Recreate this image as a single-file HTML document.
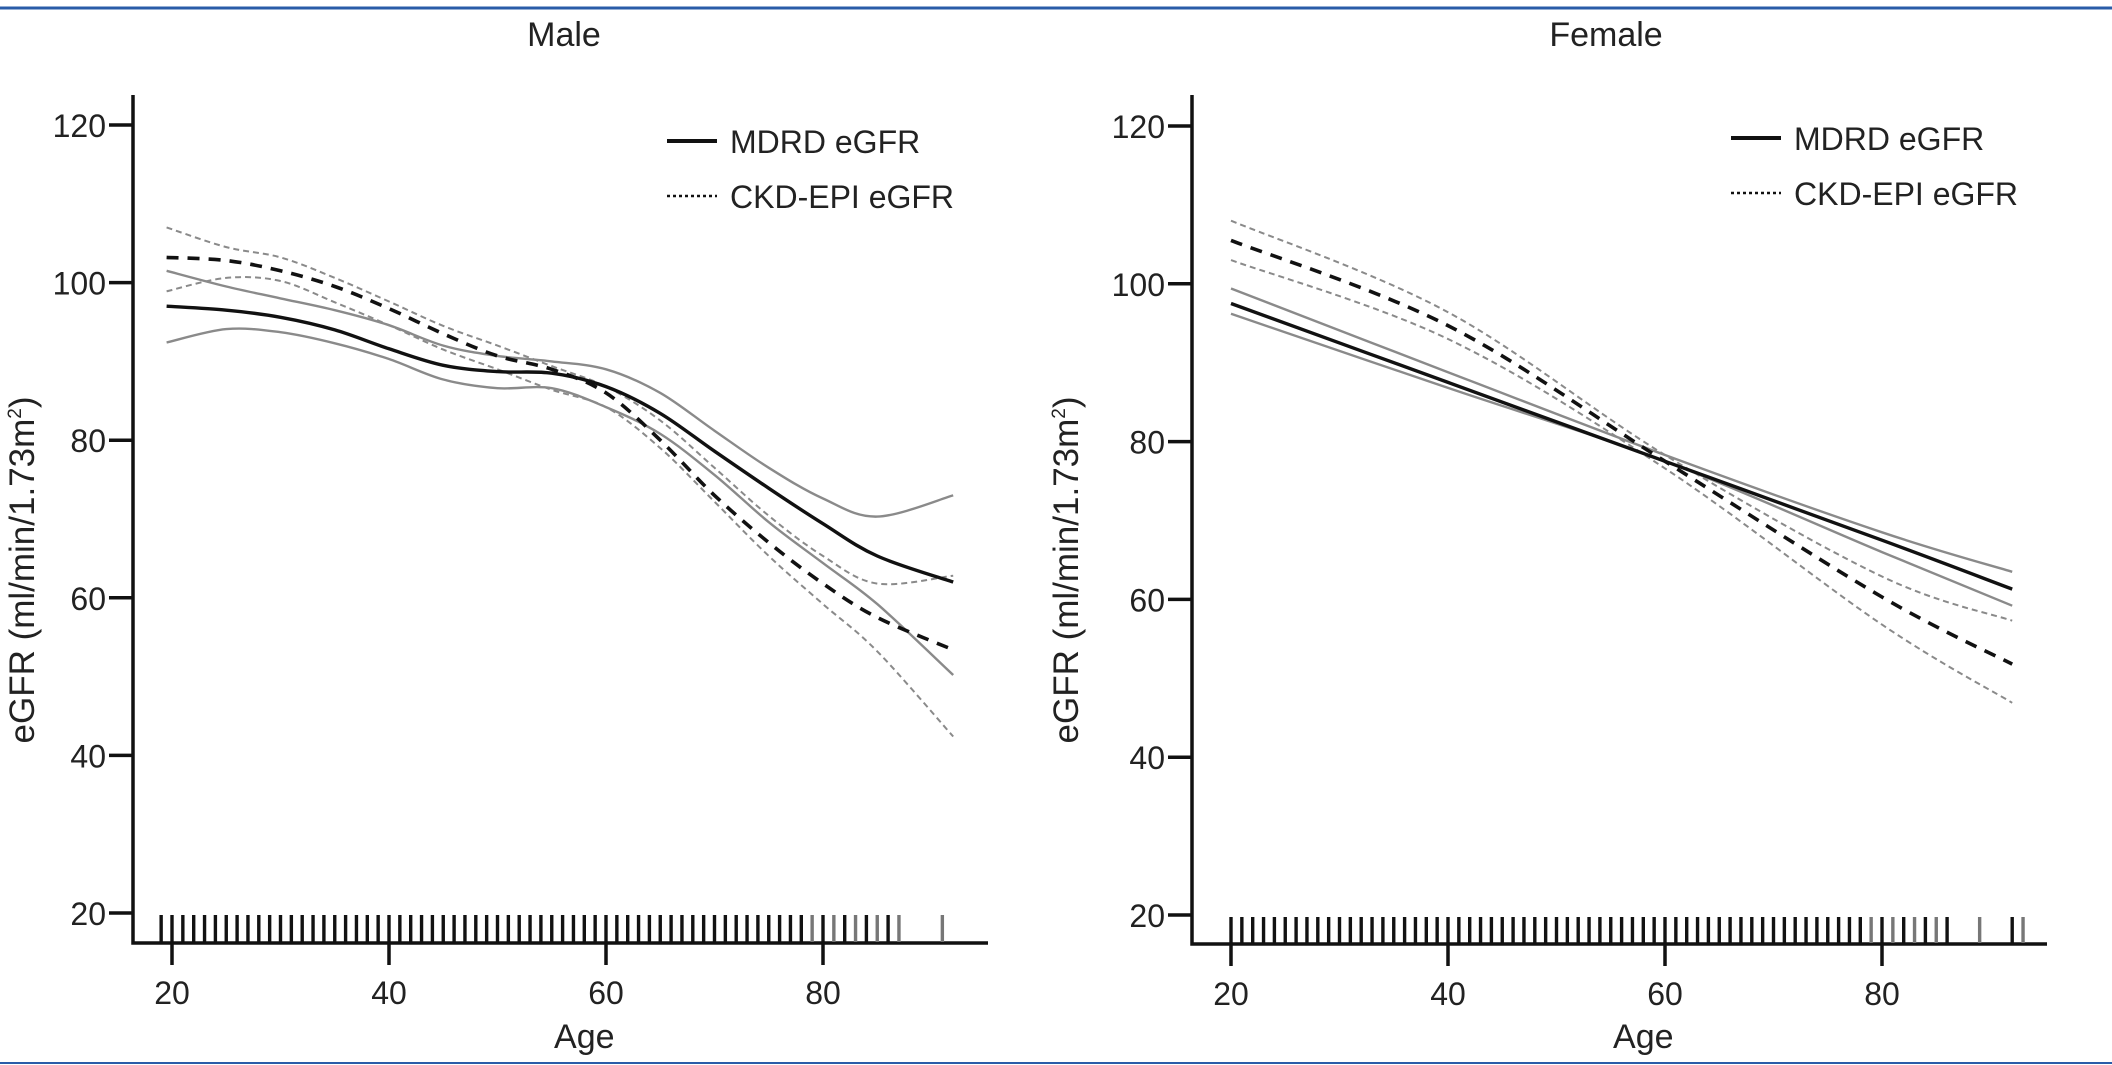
<!DOCTYPE html>
<html><head><meta charset="utf-8">
<style>
html,body{margin:0;padding:0;background:#fff;}
svg{display:block;}
text{font-family:"Liberation Sans",sans-serif;fill:#222;}
</style></head>
<body>
<svg id="fig" width="2112" height="1065" viewBox="0 0 2112 1065" xmlns="http://www.w3.org/2000/svg">
<line x1="0" y1="8" x2="2112" y2="8" stroke="#2a5ca8" stroke-width="3"/>
<line x1="0" y1="1063" x2="2112" y2="1063" stroke="#2a5ca8" stroke-width="2"/>
<g id="male"></g>
<g id="female"></g>
</svg>
<script>
const yTicks = [20,40,60,80,100,120];
const xTicks = [20,40,60,80];
const maleAges = [19.5,25,30,35,40,45,50,55,60,65,70,75,80,85,92];
const maleMdrd = [97,96.5,95.6,94,91.6,89.5,88.7,88.5,86.8,83.4,78.6,73.9,69.4,65.3,62];
const maleMdrdUp = [101.5,99.5,98,96.5,94.6,92,90.7,90,89,86,81.2,76.5,72.6,70.3,73];
const maleMdrdLo = [92.4,94.1,93.7,92.3,90.3,87.7,86.6,86.6,84.2,80.8,75.6,69.6,64.4,59.2,50.2];
const maleCkd = [103.2,102.8,101.5,99.5,96.7,93.5,90.7,89,86,80,73,67,61.8,57.5,53.4];
const maleCkdUp = [107,104.5,103.2,100.6,97.6,94.5,92,89.4,86.8,82.5,76.5,70.4,65.3,61.8,62.8];
const maleCkdLo = [98.9,100.6,100.2,97.5,94.6,91.5,89,86.4,84.2,79,72.2,65.3,59.2,53.2,42.4];
const femaleAges = [20,40,60,80,92];
const femaleMdrd = [97.5,87.5,77.5,67.5,61.3];
const femaleMdrdUp = [99.4,88.8,78.3,68.5,63.5];
const femaleMdrdLo = [96.2,86.8,77.5,66,59.2];
const femaleCkd = [105.5,94.7,77.5,60.3,51.8];
const femaleCkdUp = [108,96.4,78.3,62.9,57.3];
const femaleCkdLo = [103,93,76.6,56.8,46.9];
const maleRug = [];
for (let a = 19; a <= 87; a++) maleRug.push(a);
maleRug.push(91);
const femaleRug = [];
for (let a = 20; a <= 86; a++) femaleRug.push(a);
femaleRug.push(89, 92, 93);

const NS = "http://www.w3.org/2000/svg";
function mk(parent, tag, attrs) {
  const e = document.createElementNS(NS, tag);
  for (const k in attrs) e.setAttribute(k, attrs[k]);
  parent.appendChild(e);
  return e;
}
function smoothPath(pts) {
  let d = "M" + pts[0][0].toFixed(1) + "," + pts[0][1].toFixed(1);
  for (let i = 0; i < pts.length - 1; i++) {
    const p0 = pts[Math.max(0, i - 1)], p1 = pts[i], p2 = pts[i + 1], p3 = pts[Math.min(pts.length - 1, i + 2)];
    const c1 = [p1[0] + (p2[0] - p0[0]) / 6, p1[1] + (p2[1] - p0[1]) / 6];
    const c2 = [p2[0] - (p3[0] - p1[0]) / 6, p2[1] - (p3[1] - p1[1]) / 6];
    d += " C" + c1[0].toFixed(1) + "," + c1[1].toFixed(1) + " " + c2[0].toFixed(1) + "," + c2[1].toFixed(1) + " " + p2[0].toFixed(1) + "," + p2[1].toFixed(1);
  }
  return d;
}
function panel(g, cfg) {
  const X = a => cfg.x20 + (a - 20) * (cfg.x80 - cfg.x20) / 60;
  const Y = v => cfg.y20 - (v - 20) * (cfg.y20 - cfg.y120) / 100;
  const t = mk(g, "text", {x: cfg.titleX, y: 46, "text-anchor": "middle", "font-size": 34});
  t.textContent = cfg.title;
  
  
  const yl = mk(g, "text", {transform: "translate(" + cfg.ylabX + ",570) rotate(-90)", "text-anchor": "middle", "font-size": 35});
  yl.innerHTML = 'eGFR (ml/min/1.73m<tspan font-size="19" dy="-13">2</tspan><tspan dy="13">)</tspan>';
  
  
  const xl = mk(g, "text", {x: X(58), y: 1048, "text-anchor": "middle", "font-size": 34});
  xl.textContent = "Age";
  
  
  const ax = mk(g, "path", {d: "M" + cfg.ax + ",95 V" + cfg.axY + " H" + cfg.axEnd, fill: "none", stroke: "#111", "stroke-width": 3.5});
  
  
  yTicks.forEach(v => {
    const l = mk(g, "line", {x1: cfg.ax - 24, x2: cfg.ax, y1: Y(v), y2: Y(v), stroke: "#111", "stroke-width": 3.5});
    
    
    const tx = mk(g, "text", {x: cfg.ax - 27, y: Y(v) + 12, "text-anchor": "end", "font-size": 32});
    tx.textContent = v;
    
    
  });
  xTicks.forEach(v => {
    const l = mk(g, "line", {x1: X(v), x2: X(v), y1: cfg.axY, y2: cfg.axY + 22, stroke: "#111", "stroke-width": 3.5});
    
    
    const tx = mk(g, "text", {x: X(v), y: cfg.axY + 61, "text-anchor": "middle", "font-size": 32});
    tx.textContent = v;
    
    
  });
  cfg.rug.forEach(a => {
    const r = mk(g, "line", {x1: X(a), x2: X(a), y1: cfg.y20 + 2, y2: cfg.axY - 1, stroke: a > 78 && a % 2 ? "#777" : "#111", "stroke-width": 3.4});
    
    
  });
  const styles = {
    ciM: {stroke: "#8a8a8a", "stroke-width": 2.4, fill: "none"},
    ciC: {stroke: "#8a8a8a", "stroke-width": 2, fill: "none", "stroke-dasharray": "6,4"},
    m: {stroke: "#111", "stroke-width": 3.4, fill: "none"},
    c: {stroke: "#111", "stroke-width": 3.6, fill: "none", "stroke-dasharray": "12,9"}
  };
  cfg.series.forEach(s => {
    const pts = cfg.ages.map((a, i) => [X(a), Y(s.vals[i])]);
    const p = mk(g, "path", Object.assign({d: smoothPath(pts)}, styles[s.style]));
    
    
  });
  const lg = mk(g, "g", {});
  
  
  const l1 = mk(lg, "line", {x1: cfg.legX, x2: cfg.legX + 50, y1: cfg.legY, y2: cfg.legY, stroke: "#111", "stroke-width": 4});
  
  
  const t1 = mk(lg, "text", {x: cfg.legX + 63, y: cfg.legY + 12, "font-size": 32});
  t1.textContent = "MDRD eGFR";
  
  
  const l2 = mk(lg, "line", {x1: cfg.legX, x2: cfg.legX + 50, y1: cfg.legY + 55, y2: cfg.legY + 55, stroke: "#111", "stroke-width": 2.5, "stroke-dasharray": "3,3"});
  
  
  const t2 = mk(lg, "text", {x: cfg.legX + 63, y: cfg.legY + 67, "font-size": 32});
  t2.textContent = "CKD-EPI eGFR";
  
  
}
panel(document.getElementById("male"), {
  title: "Male", titleX: 564, ylabX: 34, ax: 133, axY: 943, axEnd: 988,
  x20: 172, x80: 823, y20: 913, y120: 125, legX: 667, legY: 141, rug: maleRug, ages: maleAges,
  series: [
    {name: "male-mdrd-ci-upper", style: "ciM", vals: maleMdrdUp},
    {name: "male-mdrd-ci-lower", style: "ciM", vals: maleMdrdLo},
    {name: "male-ckd-ci-upper", style: "ciC", vals: maleCkdUp},
    {name: "male-ckd-ci-lower", style: "ciC", vals: maleCkdLo},
    {name: "male-mdrd-line", style: "m", vals: maleMdrd},
    {name: "male-ckd-line", style: "c", vals: maleCkd}
  ]
});
panel(document.getElementById("female"), {
  title: "Female", titleX: 1606, ylabX: 1078, ax: 1192, axY: 944, axEnd: 2047,
  x20: 1231, x80: 1882, y20: 915, y120: 126, legX: 1731, legY: 138, rug: femaleRug, ages: femaleAges,
  series: [
    {name: "female-mdrd-ci-upper", style: "ciM", vals: femaleMdrdUp},
    {name: "female-mdrd-ci-lower", style: "ciM", vals: femaleMdrdLo},
    {name: "female-ckd-ci-upper", style: "ciC", vals: femaleCkdUp},
    {name: "female-ckd-ci-lower", style: "ciC", vals: femaleCkdLo},
    {name: "female-mdrd-line", style: "m", vals: femaleMdrd},
    {name: "female-ckd-line", style: "c", vals: femaleCkd}
  ]
});
</script>
</body></html>
